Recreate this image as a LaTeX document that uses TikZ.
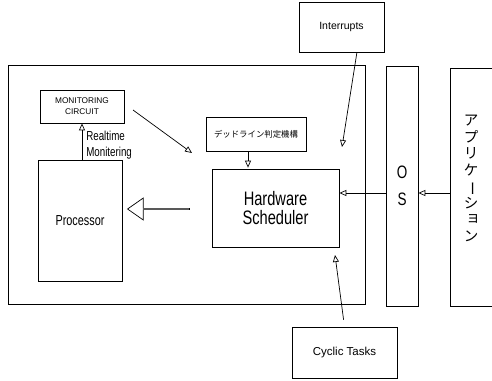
\documentclass[tikz,border=0pt]{standalone}
\usepackage{fontspec}
\usetikzlibrary{arrows.meta,calc,shapes.arrows}
\setmainfont{Liberation Sans}
\newfontfamily\narrow[FakeStretch=0.75]{Liberation Sans}
\newfontfamily\jpfont{Noto Sans CJK JP}

\begin{document}
\begin{tikzpicture}[x=1pt,y=-1pt,line width=0.7pt,
  box/.style={draw,inner sep=0pt},
  tip/.style={-{Triangle[open,length=7pt,width=6pt]}}]
\clip (0,0) rectangle (492,380);
\node[box,minimum width=357,minimum height=239] (chip) at (186.5,184.5) {};
\node[box,minimum width=85,minimum height=50,font=\fontsize{10.5}{12}\selectfont] (intr) at (341.5,27) {Interrupts};
\node[box,minimum width=84,minimum height=33,align=center,font=\fontsize{8.3}{11}\selectfont] (monitor) at (82,106.5) {MONITORING\\CIRCUIT};
\node[box,minimum width=84,minimum height=121,font=\narrow\fontsize{14.5}{16}\selectfont] (proc) at (80,220.5) {Processor};
\node[box,minimum width=100,minimum height=34,font=\jpfont\fontsize{8.4}{10}\selectfont] (deadline) at (256,134) {デッドライン判定機構};
\node[box,minimum width=127,minimum height=78,align=center,font=\narrow\fontsize{19.5}{19}\selectfont] (hw) at (275.5,208) {Hardware\\Scheduler};
\node[box,minimum width=32,minimum height=240,align=center,font=\narrow\fontsize{18}{27}\selectfont] (os) at (402,186) {O\\S};
\node[box,minimum width=70,minimum height=238] (app) at (485,187) {};
\node[align=center,font=\jpfont\fontsize{14.5}{16.6}\selectfont] (apptext) at (471,178.5)
  {ア\\プ\\リ\\ケ\\\rotatebox[origin=c]{-90}{ー}\\シ\\\hspace*{4pt}\raisebox{3pt}{ョ}\\ン};
\node[box,minimum width=105,minimum height=51,font=\fontsize{11.5}{13}\selectfont] (cyclic) at (344.5,352.5) {Cyclic Tasks};
\node[single arrow,draw,minimum height=62,minimum width=22,inner sep=0pt,single arrow head extend=6,single arrow tip angle=70,shape border rotate=180] (push) at (159,209) {};
\node[anchor=west,align=left,inner sep=0pt,font=\narrow\fontsize{13}{16}\selectfont] (rtm) at (86,145) {Realtime\\Monitering};
\coordinate (lvl) at (0,193);
\coordinate (dl) at (248,0);
\coordinate (m1) at (133,110);
\coordinate (m2) at (192,153);
\coordinate (i2) at (342,147);
\coordinate (c2) at (335,255);
\draw[tip] (monitor.south |- proc.north) -- (monitor.south);
\draw[tip] (m1) -- (m2);
\draw[tip] (deadline.south -| dl) -- ($(hw.north -| dl)+(0,-1)$);
\draw[tip] ($(intr.south west)!0.68!(intr.south east)$) -- (i2);
\draw[tip,shorten <=7pt] (cyclic.north) -- (c2);
\draw[tip] (os.west |- lvl) -- (hw.east |- lvl);
\draw[tip] (app.west |- lvl) -- (os.east |- lvl);
\end{tikzpicture}
\end{document}
